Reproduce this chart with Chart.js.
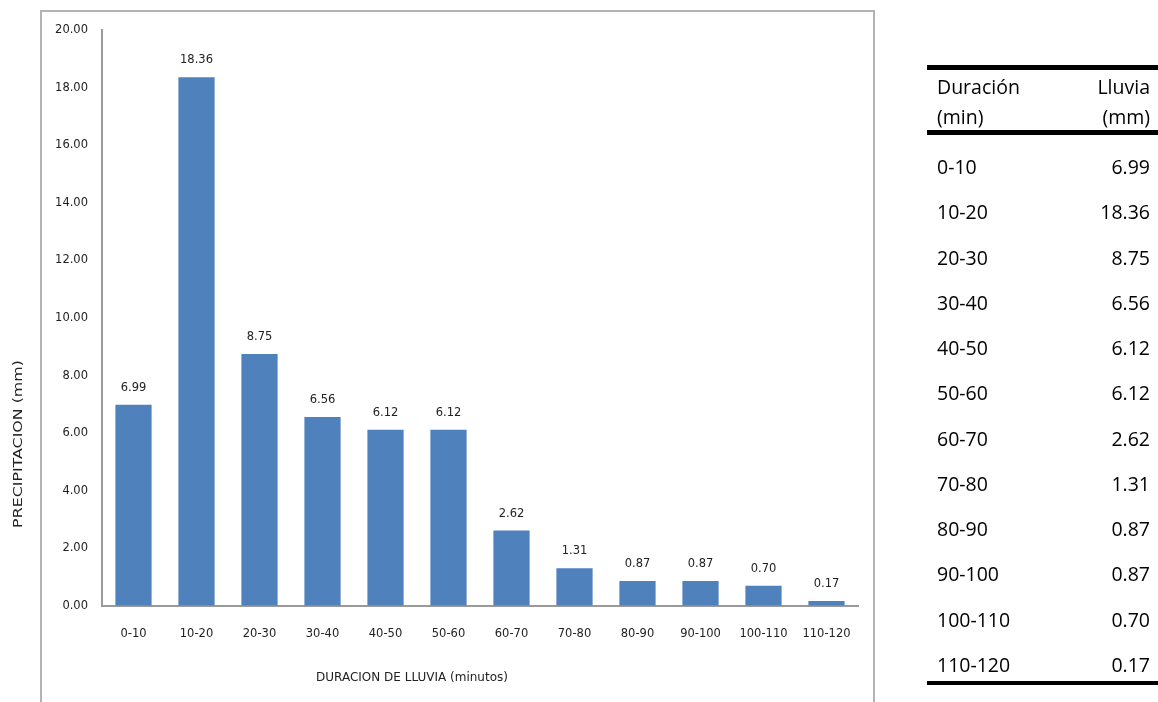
<!DOCTYPE html>
<html>
<head>
<meta charset="utf-8">
<script src="https://cdn.jsdelivr.net/npm/chart.js@4.4.1/dist/chart.umd.min.js"></script>
<style>
  html, body { margin: 0; padding: 0; background: #fff; }
  body { width: 1158px; height: 702px; position: relative; overflow: hidden; }
  #frame { position: absolute; left: 40px; top: 10px; width: 835px; height: 720px; border: 2px solid #b3b3b3; box-sizing: border-box; }
  #wrap { position: absolute; left: 0; top: 0; width: 880px; height: 702px; }
  #tbl { position: absolute; left: 0; top: 0; width: 1158px; height: 702px; font-family: "Open Sans", sans-serif; font-size: 19.5px; color: #000; }
  .rule { position: absolute; left: 927px; width: 231px; background: #000; }
  .cell { position: absolute; line-height: 26px; height: 26px; white-space: nowrap; }
  .l { left: 937px; }
  .r { right: 8px; text-align: right; }
</style>
</head>
<body>
<div id="frame"></div>
<div id="wrap"><canvas id="c" width="880" height="702"></canvas></div>
<div id="tbl"></div>
<script>
const categories = ["0-10","10-20","20-30","30-40","40-50","50-60","60-70","70-80","80-90","90-100","100-110","110-120"];
const rainfall = [6.99, 18.36, 8.75, 6.56, 6.12, 6.12, 2.62, 1.31, 0.87, 0.87, 0.70, 0.17];
const headerLeft = ["Duración", "(min)"];
const headerRight = ["Lluvia", "(mm)"];
const yTitle = "PRECIPITACION (mm)";
const xTitle = "DURACION DE LLUVIA (minutos)";

const chartFont = '"DejaVu Sans", sans-serif';

const labelsPlugin = {
  id: 'barLabels',
  afterDatasetsDraw(chart) {
    const ctx = chart.ctx;
    const meta = chart.getDatasetMeta(0);
    ctx.save();
    ctx.font = '11.5px ' + chartFont;
    ctx.fillStyle = '#222';
    ctx.textAlign = 'center';
    ctx.textBaseline = 'middle';
    meta.data.forEach((bar, i) => {
      ctx.fillText(rainfall[i].toFixed(2), bar.x, bar.y - 17);
    });
    ctx.restore();
  }
};
const titlesPlugin = {
  id: 'axisTitles',
  afterDraw(chart) {
    const ctx = chart.ctx;
    ctx.save();
    ctx.font = '12px ' + chartFont;
    ctx.fillStyle = '#222';
    ctx.textAlign = 'center';
    ctx.textBaseline = 'middle';
    ctx.fillText(xTitle, 412, 678);
    ctx.translate(19, 444);
    ctx.rotate(-Math.PI / 2);
    ctx.scale(1.32, 1);
    ctx.fillText(yTitle, 0, 0);
    ctx.restore();
  }
};

new Chart(document.getElementById('c'), {
  type: 'bar',
  data: {
    labels: categories,
    datasets: [{
      data: rainfall,
      backgroundColor: '#4F81BD',
      borderWidth: 0,
      barPercentage: 0.575,
      categoryPercentage: 1.0
    }]
  },
  options: {
    responsive: false,
    animation: false,
    layout: { padding: { top: 30, right: 22, left: 0, bottom: 0 } },
    plugins: { legend: { display: false }, tooltip: { enabled: false } },
    scales: {
      x: {
        grid: { display: true, drawOnChartArea: false, drawTicks: false },
        border: { display: true, color: '#9a9a9a', width: 2 },
        ticks: { color: '#222', font: { family: chartFont, size: 11.5 }, padding: 21, maxRotation: 0, autoSkip: false },
        afterFit(scale) { scale.height = 96; }
      },
      y: {
        min: 0, max: 20,
        grid: { display: true, drawOnChartArea: false, drawTicks: false },
        border: { display: true, color: '#9a9a9a', width: 2 },
        ticks: { stepSize: 2, color: '#222', font: { family: chartFont, size: 11.5 }, padding: 14,
                 callback: v => Number(v).toFixed(2) },
        afterFit(scale) { scale.width = 102; }
      }
    }
  },
  plugins: [labelsPlugin, titlesPlugin]
});

// table
const tbl = document.getElementById('tbl');
function rule(top, h) {
  const d = document.createElement('div');
  d.className = 'rule'; d.style.top = top + 'px'; d.style.height = h + 'px';
  tbl.appendChild(d);
}
function cell(cls, text, cy) {
  const d = document.createElement('div');
  d.className = 'cell ' + cls; d.textContent = text; d.style.top = (cy - 13) + 'px';
  tbl.appendChild(d);
}
rule(65, 5);
rule(130, 5);
rule(681, 4);
headerLeft.forEach((t, i) => cell('l', t, 87 + i * 30));
headerRight.forEach((t, i) => cell('r', t, 87 + i * 30));
categories.forEach((c, i) => {
  const cy = 167 + i * 45.27;
  cell('l', c, cy);
  cell('r', rainfall[i].toFixed(2), cy);
});
</script>
</body>
</html>
